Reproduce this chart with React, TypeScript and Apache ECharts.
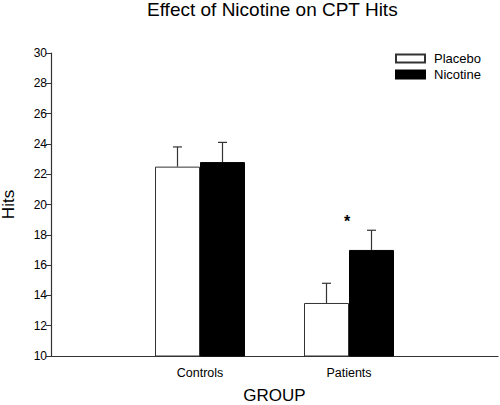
import React, { useEffect, useRef } from "react";
import * as echarts from "echarts";

const categories = ["", "Controls", "Patients", ""];
const placebo = [null, 22.5, 13.5, null];
const nicotine = [null, 22.8, 17.0, null];
const placeboErr = [null, 1.3, 1.3, null];
const nicotineErr = [null, 1.3, 1.3, null];
const annotations = [{ category: "Patients", value: 18.85, text: "*" }];
const yTicks = { min: 10, max: 30, interval: 2 };

const FONT = "Liberation Sans, Arial, sans-serif";
const BAR_W = 45;

function errData(vals: (number | null)[], errs: (number | null)[]) {
  const out: any[] = [];
  vals.forEach((v, i) => {
    if (v != null && errs[i] != null) out.push([i, v, errs[i]]);
  });
  return out;
}

function makeErr(name: string, vals: any[], errs: any[], offset: number) {
  return {
    type: "custom",
    name: name + " err",
    silent: true,
    z: 5,
    data: errData(vals, errs),
    renderItem: (params: any, api: any) => {
      const i = api.value(0);
      const v = api.value(1);
      const e = api.value(2);
      const p0 = api.coord([i, v]);
      const p1 = api.coord([i, v + e]);
      const x = p0[0] + offset;
      const cap = 4.5;
      const st = { stroke: "#333", lineWidth: 1.2 };
      return {
        type: "group",
        children: [
          { type: "line", shape: { x1: x, y1: p0[1], x2: x, y2: p1[1] }, style: st },
          { type: "line", shape: { x1: x - cap, y1: p1[1], x2: x + cap, y2: p1[1] }, style: st },
        ],
      };
    },
  };
}

export default function App() {
  const ref = useRef<HTMLDivElement>(null);
  useEffect(() => {
    if (!ref.current) return;
    const chart = echarts.init(ref.current, undefined, { renderer: "svg" });
    chart.setOption({
      animation: false,
      backgroundColor: "#fff",
      textStyle: { fontFamily: FONT },
      title: {
        text: "Effect of Nicotine on CPT Hits",
        left: 147,
        top: 0,
        padding: 0,
        textStyle: { fontFamily: FONT, fontSize: 19, fontWeight: "normal", color: "#000" },
      },
      legend: {
        data: ["Placebo", "Nicotine"],
        orient: "vertical",
        left: 395,
        top: 52,
        padding: 0,
        itemWidth: 29,
        itemHeight: 8,
        itemGap: 3,
        icon: "rect",
        textStyle: { fontFamily: FONT, fontSize: 13, color: "#000", padding: [0, 0, 0, 4] },
      },
      grid: { left: 51, right: 2, top: 53, bottom: 49, containLabel: false, outerBoundsMode: "none" },
      xAxis: {
        type: "category",
        data: categories,
        boundaryGap: false,
        name: "GROUP",
        nameLocation: "middle",
        nameGap: 31,
        nameTextStyle: { fontFamily: FONT, fontSize: 17, color: "#000" },
        axisLine: { lineStyle: { color: "#333", width: 1.2 } },
        axisTick: { show: false },
        axisLabel: { fontFamily: FONT, fontSize: 12.5, color: "#000", margin: 10, interval: 0 },
        splitLine: { show: false },
      },
      yAxis: {
        type: "value",
        min: yTicks.min,
        max: yTicks.max,
        interval: yTicks.interval,
        name: "Hits",
        nameLocation: "middle",
        nameRotate: 90,
        nameGap: 34,
        nameTextStyle: { fontFamily: FONT, fontSize: 17, color: "#000" },
        axisLine: { show: true, lineStyle: { color: "#333", width: 1.2 } },
        axisTick: { show: true, length: 5, lineStyle: { color: "#333" } },
        axisLabel: { fontFamily: FONT, fontSize: 12, color: "#000", margin: 4 },
        splitLine: { show: false },
      },
      series: [
        {
          type: "bar",
          name: "Placebo",
          data: placebo,
          barWidth: BAR_W,
          barGap: "0%",
          itemStyle: { color: "#fff", borderColor: "#333", borderWidth: 1 },
        },
        {
          type: "bar",
          name: "Nicotine",
          data: nicotine,
          barWidth: BAR_W,
          barGap: "0%",
          itemStyle: { color: "#000", borderColor: "#000", borderWidth: 1 },
        },
        makeErr("Placebo", placebo, placeboErr, -BAR_W / 2),
        makeErr("Nicotine", nicotine, nicotineErr, BAR_W / 2),
        {
          type: "custom",
          name: "annotations",
          silent: true,
          data: annotations.map((a) => [categories.indexOf(a.category), a.value]),
          renderItem: (params: any, api: any) => {
            const p = api.coord([api.value(0), api.value(1)]);
            return {
              type: "text",
              x: p[0] - 2,
              y: p[1],
              style: {
                text: annotations[params.dataIndex].text,
                fontFamily: FONT,
                fontSize: 16,
                fontWeight: "bold",
                fill: "#000",
                align: "center",
                verticalAlign: "middle",
              },
            };
          },
        },
      ],
    });
    return () => chart.dispose();
  }, []);
  return (
    <div
      ref={ref}
      style={{ position: "fixed", left: 0, top: 0, width: 500, height: 405, background: "#fff" }}
    />
  );
}
